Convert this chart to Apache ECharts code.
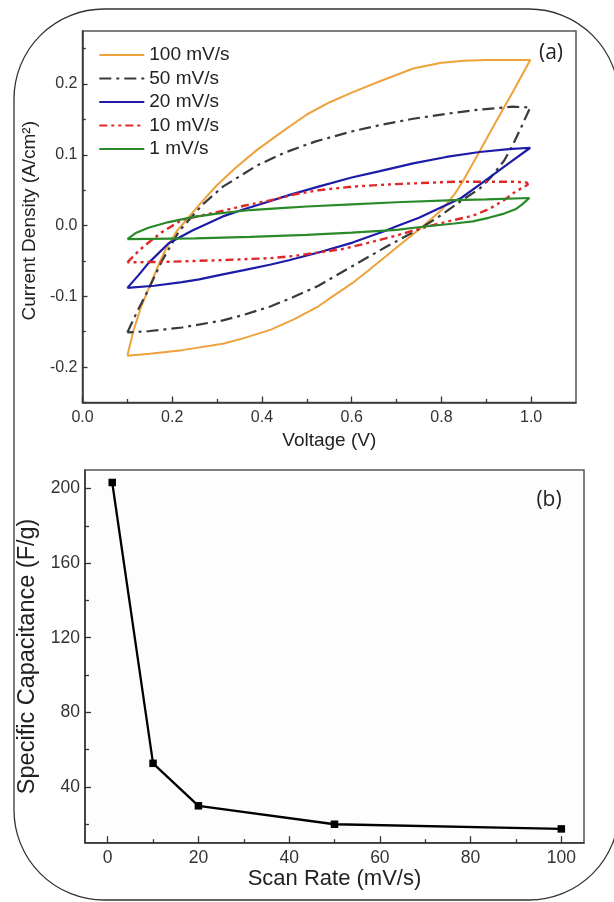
<!DOCTYPE html>
<html>
<head>
<meta charset="utf-8">
<title>CV curves and specific capacitance</title>
<script src="https://cdn.jsdelivr.net/npm/echarts@6/dist/echarts.min.js"></script>
<style>
  html, body { margin: 0; padding: 0; background: #fff; }
  #chart { width: 614px; height: 902px; }
</style>
</head>
<body>
<div id="chart"></div>
<script>
// (a) cyclic voltammetry loops, [voltage V, current density A/cm2]
// forward (upper) branch first, then reverse (lower) branch
const cv100 = [
  [0.10, -0.184], [0.113, -0.150], [0.131, -0.114], [0.150, -0.085], [0.170, -0.055],
  [0.185, -0.034], [0.210, -0.008], [0.238, 0.013], [0.268, 0.035], [0.298, 0.056],
  [0.340, 0.081], [0.389, 0.107], [0.450, 0.135], [0.500, 0.157], [0.550, 0.174],
  [0.600, 0.188], [0.663, 0.204], [0.737, 0.222], [0.800, 0.230], [0.850, 0.233],
  [0.900, 0.234], [0.950, 0.234], [0.998, 0.234],
  [0.960, 0.190], [0.920, 0.145], [0.880, 0.099], [0.850, 0.065], [0.829, 0.044],
  [0.800, 0.022], [0.753, -0.004], [0.700, -0.031], [0.677, -0.043], [0.640, -0.062],
  [0.602, -0.081], [0.560, -0.099], [0.526, -0.114], [0.470, -0.133], [0.420, -0.147],
  [0.360, -0.159], [0.313, -0.167], [0.222, -0.176], [0.150, -0.181], [0.10, -0.184]
];
const cv50 = [
  [0.10, -0.151], [0.120, -0.124], [0.147, -0.090], [0.177, -0.050], [0.215, -0.008],
  [0.268, 0.030], [0.313, 0.055], [0.389, 0.085], [0.450, 0.103], [0.520, 0.119],
  [0.600, 0.133], [0.663, 0.142], [0.737, 0.151], [0.811, 0.158], [0.885, 0.164],
  [0.959, 0.168], [0.998, 0.167],
  [0.980, 0.142], [0.960, 0.115], [0.940, 0.092], [0.910, 0.068], [0.885, 0.052],
  [0.844, 0.035], [0.800, 0.015], [0.753, -0.004], [0.700, -0.022], [0.677, -0.030],
  [0.602, -0.057], [0.526, -0.085], [0.470, -0.101], [0.420, -0.114], [0.360, -0.126],
  [0.313, -0.134], [0.222, -0.144], [0.150, -0.149], [0.10, -0.151]
];
const cv20 = [
  [0.10, -0.088], [0.125, -0.070], [0.147, -0.053], [0.192, -0.025], [0.245, -0.007],
  [0.313, 0.013], [0.360, 0.023], [0.405, 0.032], [0.460, 0.043], [0.526, 0.055],
  [0.600, 0.068], [0.663, 0.077], [0.737, 0.088], [0.811, 0.097], [0.885, 0.104],
  [0.950, 0.108], [0.998, 0.110],
  [0.950, 0.088], [0.890, 0.060], [0.844, 0.039], [0.800, 0.026], [0.750, 0.011],
  [0.700, -0.001], [0.677, -0.007], [0.602, -0.024], [0.526, -0.038], [0.460, -0.049],
  [0.420, -0.055], [0.360, -0.063], [0.313, -0.069], [0.260, -0.076], [0.222, -0.080],
  [0.160, -0.085], [0.10, -0.088]
];
const cv10 = [
  [0.10, -0.052], [0.128, -0.034], [0.155, -0.020], [0.180, -0.008], [0.222, 0.008],
  [0.270, 0.015], [0.313, 0.021], [0.360, 0.028], [0.420, 0.036], [0.480, 0.045],
  [0.526, 0.050], [0.600, 0.055], [0.677, 0.058], [0.750, 0.060], [0.829, 0.062],
  [0.900, 0.062], [0.960, 0.062], [0.990, 0.061],
  [0.993, 0.058], [0.985, 0.055], [0.965, 0.048], [0.940, 0.036], [0.905, 0.023],
  [0.870, 0.014], [0.829, 0.008], [0.790, 0.002], [0.753, -0.004], [0.700, -0.014],
  [0.640, -0.024], [0.580, -0.033], [0.526, -0.038], [0.470, -0.043], [0.420, -0.046],
  [0.300, -0.049], [0.200, -0.051], [0.10, -0.052]
];
const cv1 = [
  [0.10, -0.019], [0.120, -0.010], [0.147, -0.003], [0.192, 0.005], [0.245, 0.012],
  [0.300, 0.017], [0.374, 0.022], [0.450, 0.025], [0.500, 0.027], [0.600, 0.030],
  [0.700, 0.033], [0.829, 0.036], [0.900, 0.037], [0.996, 0.039],
  [0.996, 0.037], [0.980, 0.030], [0.965, 0.023], [0.940, 0.017], [0.905, 0.011],
  [0.870, 0.006], [0.829, 0.003], [0.753, -0.002], [0.700, -0.006], [0.600, -0.010],
  [0.500, -0.013], [0.374, -0.016], [0.250, -0.018], [0.10, -0.019]
];
const cvNames = ["100 mV/s", "50 mV/s", "20 mV/s", "10 mV/s", "1 mV/s"];

// (b) specific capacitance vs scan rate
const scanRates = [1, 10, 20, 50, 100];
const capacitance = [203.3, 52.6, 29.8, 19.9, 17.4];

// tick positions
const xTicksA = [0, 0.2, 0.4, 0.6, 0.8, 1.0];
const xMinorA = [0.1, 0.3, 0.5, 0.7, 0.9];
const yTicksA = [-0.2, -0.1, 0, 0.1, 0.2];
const yMinorA = [-0.25, -0.15, -0.05, 0.05, 0.15, 0.25];
const xTicksB = [0, 20, 40, 60, 80, 100];
const xMinorB = [10, 30, 50, 70, 90];
const yTicksB = [40, 80, 120, 160, 200];
const yMinorB = [20, 60, 100, 140, 180];

const font = "Liberation Sans, Arial, sans-serif";
const axisColor = "#333";

function mainAxis(grid, pos, min, max, ticks, fmt, o) {
  return Object.assign({
    gridIndex: grid, type: "value", position: pos, min: min, max: max,
    axisLine: { show: true, onZero: false, lineStyle: { color: axisColor, width: 1.5 } },
    axisTick: { show: true, inside: true, length: 6, customValues: ticks,
      lineStyle: { color: axisColor, width: 1.3 } },
    axisLabel: { customValues: ticks, formatter: fmt, color: "#333", fontFamily: font },
    splitLine: { show: false },
    nameLocation: "middle",
    nameTextStyle: { color: "#222", fontFamily: font }
  }, o);
}
function minorAxis(grid, pos, min, max, ticks, len) {
  return {
    gridIndex: grid, type: "value", position: pos, min: min, max: max,
    axisLine: { show: false, onZero: false },
    axisTick: { show: true, inside: true, length: len, customValues: ticks,
      lineStyle: { color: axisColor, width: 1.3 } },
    axisLabel: { show: false },
    splitLine: { show: false }
  };
}

const myChart = echarts.init(document.getElementById("chart"));
let option = {
  animation: false,
  backgroundColor: "#fff",
  textStyle: { fontFamily: font },
  grid: [
    { left: 82.5, top: 31, width: 493.5, height: 371.5, show: true,
      borderColor: "#555", borderWidth: 1.5, backgroundColor: "#fff" },
    { left: 85, top: 470, width: 499, height: 372.7, show: true,
      borderColor: "#555", borderWidth: 1.5, backgroundColor: "#fdfdfd" }
  ],
  xAxis: [
    mainAxis(0, "bottom", 0, 1.1, xTicksA, v => v.toFixed(1), {
      name: "Voltage (V)", nameGap: 29,
      nameTextStyle: { fontSize: 19, color: "#222", fontFamily: font },
      axisLabel: { customValues: xTicksA, formatter: v => v.toFixed(1), margin: 7,
        fontSize: 16, color: "#333", fontFamily: font }
    }),
    minorAxis(0, "bottom", 0, 1.1, xMinorA, 3.5),
    mainAxis(1, "bottom", -5, 105, xTicksB, v => String(v), {
      name: "Scan Rate (mV/s)", nameGap: 21,
      nameTextStyle: { fontSize: 22, color: "#222", fontFamily: font },
      axisTick: { show: true, inside: true, length: 6.5, customValues: xTicksB,
        lineStyle: { color: axisColor, width: 1.3 } },
      axisLabel: { customValues: xTicksB, margin: 6, fontSize: 17.5, color: "#333", fontFamily: font }
    }),
    minorAxis(1, "bottom", -5, 105, xMinorB, 3.5)
  ],
  yAxis: [
    mainAxis(0, "left", -0.25, 0.275, yTicksA, v => v.toFixed(1), {
      name: "Current Density (A/cm²)", nameGap: 42, nameRotate: 90,
      nameTextStyle: { fontSize: 19, color: "#222", fontFamily: font, padding: [0, 8, 0, 0] },
      axisTick: { show: true, inside: true, length: 5, customValues: yTicksA,
        lineStyle: { color: axisColor, width: 1.3 } },
      axisLabel: { customValues: yTicksA, formatter: v => v.toFixed(1), margin: 5,
        fontSize: 16, color: "#333", fontFamily: font }
    }),
    minorAxis(0, "left", -0.25, 0.275, yMinorA, 3.3),
    mainAxis(1, "left", 10, 210, yTicksB, v => String(v), {
      name: "Specific Capacitance (F/g)", nameGap: 35, nameRotate: 90,
      nameTextStyle: { fontSize: 23.5, color: "#222", fontFamily: font },
      axisTick: { show: true, inside: true, length: 6, customValues: yTicksB,
        lineStyle: { color: axisColor, width: 1.3 } },
      axisLabel: { customValues: yTicksB, margin: 5, fontSize: 17.5, color: "#333", fontFamily: font }
    }),
    minorAxis(1, "left", 10, 210, yMinorB, 4)
  ],
  legend: {
    data: cvNames,
    orient: "vertical",
    left: 93.3,
    top: 40.5,
    itemWidth: 45,
    itemHeight: 14,
    itemGap: 4.5,
    selectedMode: false,
    itemStyle: { opacity: 0 },
    textStyle: { fontSize: 19, lineHeight: 19, color: "#222", fontFamily: font }
  },
  graphic: [
    { type: "rect", silent: true, z: 100,
      shape: { x: 14, y: 9, width: 605, height: 891, r: 90 },
      style: { fill: "none", stroke: "#333", lineWidth: 1.3 } },
    { type: "text", x: 551, y: 53, z: 100,
      style: { text: "(a)", fontSize: 21, fontFamily: "Open Sans, sans-serif", fill: "#222",
        align: "center", verticalAlign: "middle" } },
    { type: "text", x: 549, y: 500, z: 100,
      style: { text: "(b)", fontSize: 21, fontFamily: "Open Sans, sans-serif", fill: "#222",
        align: "center", verticalAlign: "middle" } }
  ],
  series: [
    { name: cvNames[0], type: "line", xAxisIndex: 0, yAxisIndex: 0, data: cv100,
      symbol: "none", lineStyle: { color: "#eea23c", width: 2 }, itemStyle: { color: "#eea23c" } },
    { name: cvNames[1], type: "line", xAxisIndex: 0, yAxisIndex: 0, data: cv50,
      symbol: "none", lineStyle: { color: "#3a3a3a", width: 2.2, type: [12, 5, 3, 5] },
      itemStyle: { color: "#3a3a3a" } },
    { name: cvNames[2], type: "line", xAxisIndex: 0, yAxisIndex: 0, data: cv20,
      symbol: "none", lineStyle: { color: "#1c1ca8", width: 2.2 }, itemStyle: { color: "#1c1ca8" } },
    { name: cvNames[3], type: "line", xAxisIndex: 0, yAxisIndex: 0, data: cv10,
      symbol: "none", lineStyle: { color: "#e02828", width: 2.4, type: [8, 4, 3, 4, 3, 4] },
      itemStyle: { color: "#e02828" } },
    { name: cvNames[4], type: "line", xAxisIndex: 0, yAxisIndex: 0, data: cv1,
      symbol: "none", lineStyle: { color: "#2a8a2a", width: 2.2 }, itemStyle: { color: "#2a8a2a" } },
    { name: "Specific Capacitance", type: "line", xAxisIndex: 2, yAxisIndex: 2,
      data: scanRates.map((r, i) => [r, capacitance[i]]),
      symbol: "rect", symbolSize: 7.5,
      lineStyle: { color: "#000", width: 2.3 }, itemStyle: { color: "#000" } }
  ]
};
option && myChart.setOption(option);
window.addEventListener("resize", function () {
  myChart.resize();
});
</script>
</body>
</html>
